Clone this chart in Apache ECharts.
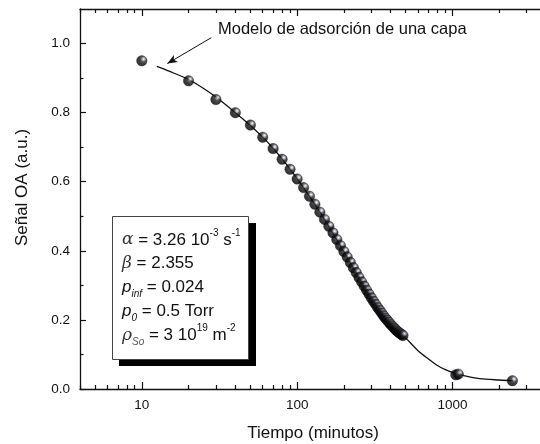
<!DOCTYPE html>
<html>
<head>
<meta charset="utf-8">
<script src="https://cdn.jsdelivr.net/npm/echarts@6/dist/echarts.min.js"></script>
<style>
  html, body { margin: 0; padding: 0; background: #fff; }
  #main { width: 540px; height: 444px; }
</style>
</head>
<body>
<div id="main"></div>
<script>
// measured points (time in minutes, OA signal in a.u.)
const timeMin = [10, 20, 30, 40, 50, 60, 70, 80, 90, 100,
  110, 120, 130, 140, 150, 160, 170, 180, 190, 200,
  210, 220, 230, 240, 250, 260, 270, 280, 290, 300,
  310, 320, 330, 340, 350, 360, 370, 380, 390, 400,
  410, 420, 430, 440, 450, 460, 470, 480, 1050, 1090, 2430];
const signalOA = [0.950, 0.892, 0.838, 0.800, 0.764, 0.729, 0.696, 0.665, 0.636, 0.608,
  0.583, 0.558, 0.535, 0.512, 0.491, 0.471, 0.452, 0.433, 0.415, 0.398,
  0.382, 0.366, 0.351, 0.337, 0.323, 0.310, 0.298, 0.286, 0.275, 0.264,
  0.254, 0.245, 0.236, 0.228, 0.220, 0.212, 0.205, 0.199, 0.193, 0.187,
  0.182, 0.177, 0.172, 0.168, 0.164, 0.161, 0.158, 0.155, 0.041, 0.043, 0.024];

// single-layer adsorption model curve
const modelTime = [12.5, 15, 20, 25, 30, 40, 50, 60, 70, 80, 100, 130, 160, 200, 250,
  300, 400, 480, 600, 700, 800, 900, 1000, 1200, 1500, 2000, 2450];
const modelSignal = [0.934, 0.920, 0.896, 0.870, 0.845, 0.800, 0.763, 0.729, 0.697, 0.666,
  0.609, 0.535, 0.471, 0.398, 0.323, 0.264, 0.187, 0.156, 0.111, 0.087, 0.068, 0.056,
  0.048, 0.038, 0.030, 0.026, 0.024];

// arrow of the annotation (data coords: tail, head)
const arrowTail = [28, 1.017];
const arrowHead = [14.6, 0.942];

// axis ticks
const xMajor = [10, 100, 1000];
const xMinor = [4, 5, 6, 7, 8, 9, 20, 30, 40, 50, 60, 70, 80, 90,
  200, 300, 400, 500, 600, 700, 800, 900, 2000, 3000, 4000];
const yMajor = [0, 0.2, 0.4, 0.6, 0.8, 1.0];
const yMinor = [0.1, 0.3, 0.5, 0.7, 0.9];

const FONT = 'Liberation Sans, Arial, sans-serif';
const INK = '#111';

const chart = echarts.init(document.getElementById('main'));

// two identical grids: one carries the major ticks, the other the minor ones
const box = { left: 80, top: 9, width: 466, height: 380, containLabel: false, outerBoundsMode: 'none' };

function xAx(grid, pos, ticks, len, withLine, withLabels) {
  return {
    type: 'log', min: 4, max: 4000, position: pos, gridIndex: grid,
    axisLine: { show: withLine, onZero: false, lineStyle: { color: INK, width: 1.3 } },
    axisTick: { show: true, inside: true, length: len, customValues: ticks,
      lineStyle: { color: INK, width: 1.2 } },
    axisLabel: withLabels ? { show: true, customValues: xMajor, margin: 9,
      fontFamily: FONT, fontSize: 13.5, color: INK,
      formatter: v => String(Math.round(v)) } : { show: false },
    splitLine: { show: false }, minorTick: { show: false }
  };
}
function yAx(grid, pos, ticks, len, withLine, withLabels) {
  return {
    type: 'value', min: 0, max: 1.1, position: pos, gridIndex: grid,
    axisLine: { show: withLine, onZero: false, lineStyle: { color: INK, width: 1.3 } },
    axisTick: { show: true, inside: true, length: len, customValues: ticks,
      lineStyle: { color: INK, width: 1.2 } },
    axisLabel: withLabels ? { show: true, customValues: yMajor, margin: 10,
      fontFamily: FONT, fontSize: 13.5, color: INK,
      formatter: v => v.toFixed(1) } : { show: false },
    splitLine: { show: false }
  };
}

const xBottom = xAx(0, 'bottom', xMajor, 7, true, true);
xBottom.name = 'Tiempo (minutos)';
xBottom.nameLocation = 'middle';
xBottom.nameGap = 36;
xBottom.nameTextStyle = { fontFamily: FONT, fontSize: 17, color: INK };

const yLeft = yAx(0, 'left', yMajor, 6, true, true);
yLeft.name = 'Señal OA (a.u.)';
yLeft.nameLocation = 'middle';
yLeft.nameGap = 49;
yLeft.nameTextStyle = { fontFamily: FONT, fontSize: 17, color: INK, padding: [0, 0, 0, 23] };

const ball = {
  type: 'radial', x: 0.66, y: 0.34, r: 0.75,
  colorStops: [
    { offset: 0, color: '#ffffff' },
    { offset: 0.12, color: '#b8b8c4' },
    { offset: 0.34, color: '#2a2a30' },
    { offset: 0.6, color: '#0a0a0a' },
    { offset: 1, color: '#000' }
  ]
};

const option = {
  animation: false,
  backgroundColor: '#fff',
  grid: [box, Object.assign({}, box)],
  xAxis: [
    xBottom,
    xAx(0, 'top', xMajor, 7, true, false),
    xAx(1, 'bottom', xMinor, 4, false, false),
    xAx(1, 'top', xMinor, 4, false, false)
  ],
  yAxis: [
    yLeft,
    yAx(0, 'right', yMajor, 6, true, false),
    yAx(1, 'left', yMinor, 3.5, false, false),
    yAx(1, 'right', yMinor, 3.5, false, false)
  ],
  series: [
    {
      name: 'Modelo',
      type: 'line',
      xAxisIndex: 0, yAxisIndex: 0,
      smooth: 0.3,
      showSymbol: false,
      symbol: 'none',
      data: modelTime.map((t, i) => [t, modelSignal[i]]),
      lineStyle: { color: INK, width: 1.3 },
      z: 2,
      markLine: {
        silent: true,
        symbol: ['none', 'arrow'],
        symbolSize: [6, 10],
        lineStyle: { color: INK, width: 1, type: 'solid' },
        label: { show: false },
        data: [[{ coord: arrowTail }, { coord: arrowHead }]]
      }
    },
    {
      name: 'Datos',
      type: 'scatter',
      xAxisIndex: 0, yAxisIndex: 0,
      symbol: 'circle',
      symbolSize: 10.5,
      data: timeMin.map((t, i) => [t, signalOA[i]]),
      itemStyle: { color: ball, borderColor: '#000', borderWidth: 0.4 },
      z: 3
    }
  ],
  graphic: [
    {
      type: 'text', left: 218, top: 21,
      style: { text: 'Modelo de adsorción de una capa', font: '16.5px ' + FONT, fill: INK }
    },
    {
      type: 'group', left: 112, top: 216,
      children: [
        { type: 'rect', shape: { x: 7, y: 7, width: 137, height: 143 }, style: { fill: '#000' } },
        { type: 'rect', shape: { x: 0.5, y: 0.5, width: 136, height: 143 },
          style: { fill: '#fff', stroke: '#444', lineWidth: 1 } },
        {
          type: 'text', x: 10, y: 12,
          style: {
            text: '{g|α} = 3.26 10{sup|-3} s{sup|-1}\n' +
                  '{g|β} = 2.355\n' +
                  '{i|p}{sub|inf} = 0.024\n' +
                  '{i|p}{sub|0} = 0.5 Torr\n' +
                  '{g|ρ}{subg|So} = 3 10{sup|19} m{sup|-2}',
            font: '17px ' + FONT,
            fill: INK,
            lineHeight: 23.8,
            rich: {
              g: { fontFamily: 'DejaVu Serif', fontStyle: 'italic', fontSize: 17, fill: '#333', lineHeight: 23.8 },
              i: { fontFamily: FONT, fontStyle: 'italic', fontSize: 17, lineHeight: 23.8 },
              sup: { fontFamily: FONT, fontSize: 10, verticalAlign: 'top', lineHeight: 14 },
              sub: { fontFamily: FONT, fontStyle: 'italic', fontSize: 10, verticalAlign: 'bottom', lineHeight: 12 },
              subg: { fontFamily: FONT, fontStyle: 'italic', fontSize: 10, fill: '#555', verticalAlign: 'bottom', lineHeight: 12 }
            }
          }
        }
      ]
    }
  ]
};

chart.setOption(option);
</script>
</body>
</html>
